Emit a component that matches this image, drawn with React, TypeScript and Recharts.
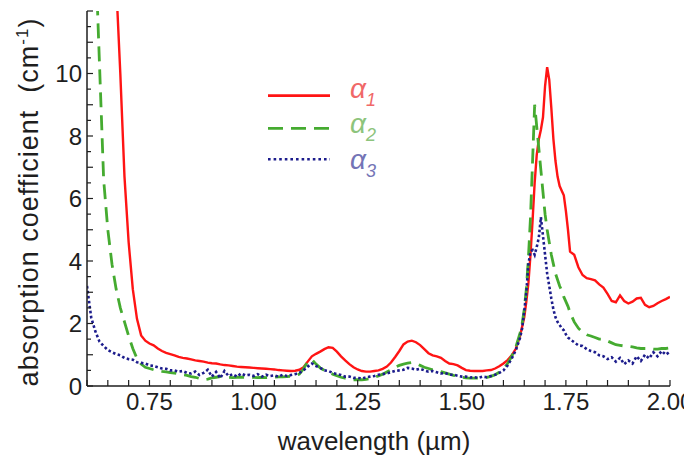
import { LineChart, Line, XAxis, YAxis, Legend } from 'recharts'

// wavelength grid in µm (denser around the 1.7 µm peak)
const wavelength = [
  0.6, 0.61, 0.62, 0.63, 0.64, 0.65, 0.66, 0.67, 0.68, 0.69,
  0.7, 0.71, 0.72, 0.73, 0.74, 0.75, 0.76, 0.77, 0.78, 0.79,
  0.8, 0.81, 0.82, 0.83, 0.84, 0.85, 0.86, 0.87, 0.88, 0.89,
  0.9, 0.91, 0.92, 0.93, 0.94, 0.95, 0.96, 0.97, 0.98, 0.99,
  1.0, 1.01, 1.02, 1.03, 1.04, 1.05, 1.06, 1.07, 1.08, 1.09,
  1.1, 1.11, 1.12, 1.13, 1.14, 1.15, 1.16, 1.17, 1.18, 1.19,
  1.2, 1.21, 1.22, 1.23, 1.24, 1.25, 1.26, 1.27, 1.28, 1.29,
  1.3, 1.31, 1.32, 1.33, 1.34, 1.35, 1.36, 1.37, 1.38, 1.39,
  1.4, 1.41, 1.42, 1.43, 1.44, 1.45, 1.46, 1.47, 1.48, 1.49,
  1.5, 1.51, 1.52, 1.53, 1.54, 1.55, 1.56, 1.57, 1.58, 1.59,
  1.6, 1.61, 1.62, 1.63, 1.64,
  1.645, 1.65, 1.655, 1.66, 1.665, 1.67, 1.675, 1.68, 1.685, 1.69,
  1.695, 1.7, 1.705, 1.71, 1.715, 1.72, 1.725, 1.73, 1.735, 1.74,
  1.745, 1.75, 1.755, 1.76,
  1.77, 1.78, 1.79, 1.8, 1.81, 1.82, 1.83, 1.84, 1.85, 1.86,
  1.87, 1.88, 1.89, 1.9, 1.91, 1.92, 1.93, 1.94, 1.95, 1.96,
  1.97, 1.98, 1.99, 2.0,
]

// absorption coefficient (cm^-1)
const alpha1 = [
  44, 38, 33, 28, 23, 19, 15.5, 12.9, 10.0, 6.7,
  4.6, 3.1, 2.15, 1.62, 1.45, 1.36, 1.3, 1.2, 1.12, 1.06,
  1.02, 0.98, 0.93, 0.9, 0.88, 0.85, 0.82, 0.8, 0.78, 0.75,
  0.73, 0.72, 0.69, 0.67, 0.66, 0.64, 0.62, 0.61, 0.6, 0.59,
  0.58, 0.57, 0.56, 0.55, 0.54, 0.53, 0.51, 0.5, 0.49, 0.48,
  0.49, 0.52, 0.6, 0.78, 0.95, 1.03, 1.1, 1.18, 1.24, 1.22,
  1.1, 0.95, 0.82, 0.7, 0.6, 0.53, 0.48, 0.46, 0.46, 0.48,
  0.5, 0.55, 0.62, 0.75, 0.93, 1.12, 1.33, 1.42, 1.45, 1.4,
  1.31, 1.18, 1.05, 0.98, 0.95, 0.9, 0.8, 0.72, 0.7, 0.66,
  0.58, 0.51, 0.49, 0.48, 0.48, 0.48, 0.5, 0.51, 0.56, 0.63,
  0.72, 0.83, 0.98, 1.2, 1.6,
  1.9, 2.2, 2.7, 3.3, 4.2, 5.3, 6.5, 7.4, 7.9, 8.2,
  8.6, 9.6, 10.2, 9.8, 8.9, 7.9, 7.2, 6.7, 6.4, 6.25,
  6.1, 5.6, 5.0, 4.3,
  4.2, 3.8, 3.55, 3.45, 3.42, 3.38, 3.25, 3.15, 2.95, 2.72,
  2.68, 2.9, 2.72, 2.64, 2.7, 2.8, 2.82, 2.6, 2.52, 2.56,
  2.65, 2.72, 2.78, 2.85,
]

const alpha2 = [
  30, 20, 14, 10.3, 6.6, 5.0, 3.9, 3.1, 2.5, 2.05,
  1.6, 1.2, 0.88, 0.7, 0.6, 0.56, 0.52, 0.5, 0.47, 0.45,
  0.43, 0.41, 0.39, 0.36, 0.34, 0.3, 0.28, 0.24, 0.2, 0.22,
  0.26, 0.28, 0.3, 0.3, 0.28, 0.27, 0.28, 0.28, 0.28, 0.28,
  0.28, 0.27, 0.28, 0.27, 0.28, 0.28, 0.29, 0.29, 0.3, 0.31,
  0.33, 0.38, 0.55, 0.78, 0.85, 0.7, 0.58, 0.5, 0.44, 0.38,
  0.33, 0.28, 0.25, 0.22, 0.2, 0.2, 0.2, 0.21, 0.24, 0.28,
  0.32, 0.38, 0.45, 0.52, 0.6, 0.66, 0.7, 0.73, 0.75, 0.72,
  0.66, 0.6, 0.56, 0.52, 0.5, 0.46, 0.42, 0.38, 0.34, 0.31,
  0.28, 0.26, 0.25, 0.25, 0.25, 0.26, 0.28, 0.31, 0.36, 0.44,
  0.55, 0.72, 0.95, 1.25, 1.7,
  2.0, 2.45, 3.1, 4.1, 5.4, 7.2, 9.0, 8.3, 7.6, 6.9,
  6.2, 5.5, 5.0, 4.6, 4.2, 3.9, 3.6, 3.4, 3.2, 3.05,
  2.85, 2.7, 2.55, 2.35,
  2.05, 1.85, 1.72, 1.64, 1.6, 1.55, 1.5, 1.5, 1.44, 1.38,
  1.32, 1.3, 1.28, 1.27, 1.25, 1.22, 1.2, 1.2, 1.2, 1.18,
  1.18, 1.2, 1.2, 1.22,
]

const alpha3 = [
  3.2, 2.2, 1.75, 1.42, 1.28, 1.15, 1.08, 1.02, 0.98, 0.9,
  0.86, 0.84, 0.76, 0.74, 0.72, 0.66, 0.64, 0.6, 0.56, 0.55,
  0.5, 0.5, 0.46, 0.48, 0.42, 0.4, 0.46, 0.35, 0.42, 0.52,
  0.3, 0.45, 0.25, 0.48, 0.32, 0.38, 0.3, 0.4, 0.34, 0.36,
  0.32, 0.38, 0.3, 0.36, 0.32, 0.34, 0.3, 0.36, 0.32, 0.35,
  0.38, 0.42, 0.5, 0.62, 0.72, 0.64, 0.58, 0.5, 0.48, 0.42,
  0.38, 0.35, 0.3, 0.3, 0.26, 0.26, 0.24, 0.28, 0.3, 0.32,
  0.36, 0.38, 0.4, 0.44, 0.48, 0.5, 0.52, 0.58, 0.56, 0.52,
  0.55, 0.5, 0.46, 0.48, 0.44, 0.4, 0.42, 0.36, 0.36, 0.33,
  0.3, 0.3, 0.27, 0.28, 0.26, 0.3, 0.28, 0.32, 0.36, 0.42,
  0.5, 0.66, 0.88, 1.15, 1.55,
  1.85, 2.4, 3.0, 3.9, 4.3, 4.35, 4.2, 4.45, 4.75, 5.4,
  4.8, 4.2, 3.6, 3.2, 2.8, 2.45, 2.2, 2.05, 1.95, 1.85,
  1.78, 1.65, 1.55, 1.5,
  1.4, 1.3, 1.28, 1.18, 1.12, 1.08, 0.98, 0.95, 0.86, 0.92,
  0.78, 0.9, 0.7, 0.82, 0.72, 0.95, 0.8, 1.0, 0.88, 1.08,
  0.95, 1.12, 1.0, 1.1,
]

const xTicks = [
  0.6, 0.65, 0.7, 0.75, 0.8, 0.85, 0.9, 0.95, 1.0, 1.05, 1.1, 1.15, 1.2, 1.25, 1.3,
  1.35, 1.4, 1.45, 1.5, 1.55, 1.6, 1.65, 1.7, 1.75, 1.8, 1.85, 1.9, 1.95, 2.0,
]
const xLabels = [0.75, 1.0, 1.25, 1.5, 1.75, 2.0]
const yTicks = [
  0, 0.5, 1, 1.5, 2, 2.5, 3, 3.5, 4, 4.5, 5, 5.5, 6, 6.5, 7, 7.5, 8, 8.5, 9, 9.5,
  10, 10.5, 11, 11.5, 12,
]
const yLabels = [0, 2, 4, 6, 8, 10]
const legendSubs = ['1', '2', '3']

const data = wavelength.map((w, i) => ({ w, a1: alpha1[i], a2: alpha2[i], a3: alpha3[i] }))

const FONT = '"Liberation Sans", Arial, Helvetica, sans-serif'
const INK = '#1e1e1e'
const RED = '#ff1414'
const GREEN = '#45ab30'
const BLUE = '#1c1c8c'

const has = (list: number[], v: number) => list.some((l) => Math.abs(l - v) < 1e-6)

const BottomTick = ({ x, y, payload }: any) => {
  const v = payload.value
  return (
    <g>
      <line x1={x} y1={y} x2={x} y2={y - 6} stroke={INK} strokeWidth={1.2} />
      {has(xLabels, v) && (
        <text x={x} y={y + 24} textAnchor="middle" fontSize={24} fill={INK} fontFamily={FONT}>
          {v.toFixed(2)}
        </text>
      )}
    </g>
  )
}

const TopTick = ({ x, y }: any) => (
  <line x1={x} y1={y} x2={x} y2={y + 6} stroke={INK} strokeWidth={1.2} />
)

const LeftTick = ({ x, y, payload }: any) => {
  const v = payload.value
  const major = Number.isInteger(v)
  return (
    <g>
      <line x1={x} y1={y} x2={x + (major ? 6 : 4)} y2={y} stroke={INK} strokeWidth={1.2} />
      {has(yLabels, v) && (
        <text x={x - 5} y={y + 8.5} textAnchor="end" fontSize={24} fill={INK} fontFamily={FONT}>
          {v}
        </text>
      )}
    </g>
  )
}

const RightTick = ({ x, y, payload }: any) => {
  const major = Number.isInteger(payload.value)
  return <line x1={x} y1={y} x2={x - (major ? 6 : 4)} y2={y} stroke={INK} strokeWidth={1.2} />
}

const legendRows = [
  { color: RED, text: '#f06868', dash: undefined, width: 2.8, lineY: 37.7, textY: 40 },
  { color: GREEN, text: '#8dc47c', dash: '15 8', width: 2.8, lineY: 70.3, textY: 75 },
  { color: BLUE, text: '#7474b6', dash: '2.6 3', width: 2.6, lineY: 101.3, textY: 111 },
]

const LegendBox = () => (
  <svg width={150} height={140} style={{ display: 'block', overflow: 'visible' }}>
    {legendRows.map((row, i) => (
      <g key={i}>
        <line
          x1={5}
          x2={67}
          y1={row.lineY}
          y2={row.lineY}
          stroke={row.color}
          strokeWidth={row.width}
          strokeDasharray={row.dash}
        />
        <text x={87} y={row.textY} fontSize={28} fontStyle="italic" fill={row.text} fontFamily={FONT}>
          α
          <tspan fontSize={18} dy={8}>
            {legendSubs[i]}
          </tspan>
        </text>
      </g>
    ))}
  </svg>
)

const XTitle = () => (
  <text x={366} y={442} textAnchor="middle" fontSize={26} fill={INK} fontFamily={FONT}>
    wavelength (µm)
  </text>
)

const YTitle = () => (
  <text
    x={30}
    y={194}
    transform="rotate(-90, 30, 194)"
    textAnchor="middle"
    fontSize={27}
    letterSpacing={1}
    fill={INK}
    fontFamily={FONT}
  >
    absorption coefficient{'\u00a0\u00a0'}(cm
    <tspan fontSize={17} dy={-10}>
      -1
    </tspan>
    <tspan dy={10}>)</tspan>
  </text>
)

export default function App() {
  return (
    <LineChart width={684} height={449} data={data} margin={{ top: 3, right: 22, bottom: 0, left: 0 }}>
      <XAxis
        xAxisId="bottom"
        dataKey="w"
        type="number"
        domain={[0.6, 2.0]}
        allowDataOverflow
        ticks={xTicks}
        interval={0}
        height={71}
        tickSize={0}
        tickMargin={0}
        tickLine={false}
        tick={<BottomTick />}
        axisLine={{ stroke: INK, strokeWidth: 1.5 }}
        label={XTitle}
      />
      <XAxis
        xAxisId="top"
        orientation="top"
        dataKey="w"
        type="number"
        domain={[0.6, 2.0]}
        allowDataOverflow
        ticks={xTicks}
        interval={0}
        height={0}
        tickSize={0}
        tickMargin={0}
        tickLine={false}
        tick={<TopTick />}
        axisLine={{ stroke: INK, strokeWidth: 1.5 }}
      />
      <YAxis
        yAxisId="left"
        type="number"
        domain={[0, 12]}
        allowDataOverflow
        ticks={yTicks}
        interval={0}
        width={79}
        tickSize={0}
        tickMargin={0}
        tickLine={false}
        tick={<LeftTick />}
        axisLine={{ stroke: INK, strokeWidth: 1.5 }}
        label={YTitle}
      />
      <YAxis
        yAxisId="right"
        orientation="right"
        type="number"
        domain={[0, 12]}
        allowDataOverflow
        ticks={yTicks}
        interval={0}
        width={0}
        tickSize={0}
        tickMargin={0}
        tickLine={false}
        tick={<RightTick />}
        axisLine={{ stroke: INK, strokeWidth: 1.5 }}
      />
      <Legend
        layout="vertical"
        align="center"
        verticalAlign="middle"
        content={LegendBox}
        wrapperStyle={{ left: 255, top: 50, width: 150, height: 140 }}
      />
      <Line
        xAxisId="bottom"
        yAxisId="left"
        dataKey="a1"
        type="linear"
        stroke={RED}
        strokeWidth={2.4}
        dot={false}
        activeDot={false}
        isAnimationActive={false}
      />
      <Line
        xAxisId="bottom"
        yAxisId="left"
        dataKey="a2"
        type="linear"
        stroke={GREEN}
        strokeWidth={2.8}
        strokeDasharray="15 8"
        dot={false}
        activeDot={false}
        isAnimationActive={false}
      />
      <Line
        xAxisId="bottom"
        yAxisId="left"
        dataKey="a3"
        type="linear"
        stroke={BLUE}
        strokeWidth={2.6}
        strokeDasharray="2.6 2.4"
        dot={false}
        activeDot={false}
        isAnimationActive={false}
      />
    </LineChart>
  )
}
